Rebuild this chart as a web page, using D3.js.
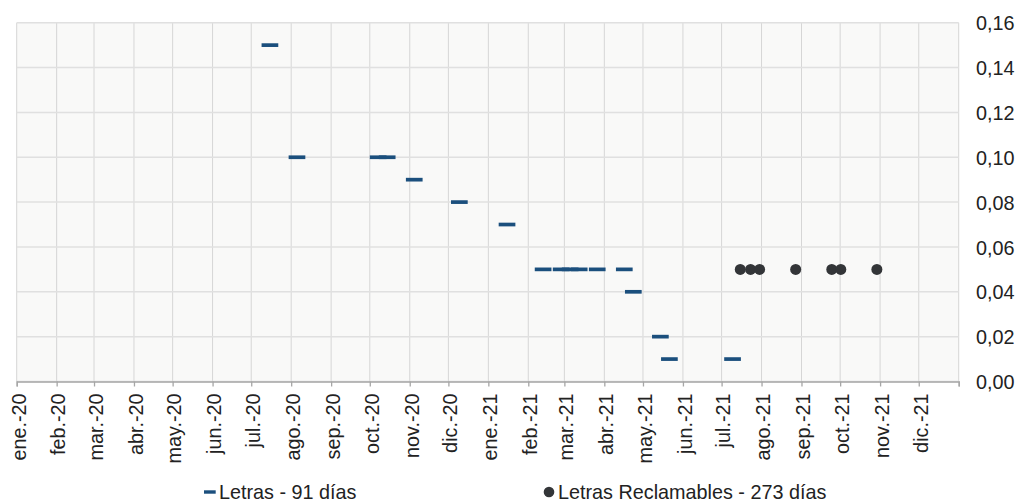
<!DOCTYPE html>
<html>
<head>
<meta charset="utf-8">
<script src="https://cdn.jsdelivr.net/npm/d3@7"></script>
<style>
  html, body { margin: 0; padding: 0; background: #ffffff; }
  svg { display: block; font-family: "Liberation Sans", Arial, sans-serif; }
</style>
</head>
<body>
<svg id="chart" width="1016" height="501"></svg>
<script>
// ---- data ----
const letrasDates = ["2020-07-15","2020-08-05","2020-10-07","2020-10-14","2020-11-04","2020-12-09",
  "2021-01-15","2021-02-12","2021-02-26","2021-03-05","2021-03-12","2021-03-26","2021-04-16",
  "2021-04-23","2021-05-14","2021-05-21","2021-07-09"];
const letrasValues = [0.15,0.10,0.10,0.10,0.09,0.08,0.07,0.05,0.05,0.05,0.05,0.05,0.05,0.04,0.02,0.01,0.01];
const reclamDates = ["2021-07-15","2021-07-23","2021-07-30","2021-08-27","2021-09-24","2021-10-01","2021-10-29"];
const reclamValues = [0.05,0.05,0.05,0.05,0.05,0.05,0.05];
const monthNames = ["ene.","feb.","mar.","abr.","may.","jun.","jul.","ago.","sep.","oct.","nov.","dic."];
const yTickValues = [0,0.02,0.04,0.06,0.08,0.10,0.12,0.14,0.16];
const legendLabels = ["Letras - 91 días","Letras Reclamables - 273 días"];

// ---- setup ----
(function () {
const svg = d3.select("#chart");
const pL = 16.7, pR = 958.7, pT = 22.7, pB = 381.5;
const FS = 19.8;
const parse = s => { const p = s.split("-").map(Number); return new Date(p[0], p[1]-1, p[2], 12); };

const x = d3.scaleTime().domain([new Date(2020,0,1), new Date(2022,0,1)]).range([pL, pR]);
const y = d3.scaleLinear().domain([0, 0.16]).range([pB, pT]);
const monthTicks = d3.timeMonth.range(new Date(2020,0,1), new Date(2022,0,2));
const locale = d3.formatLocale({decimal: ",", thousands: ".", grouping: [3], currency: ["", "€"]});
const yFmt = locale.format(".2f");

// plot background
svg.append("rect").attr("x", pL).attr("y", pT)
  .attr("width", pR - pL).attr("height", pB - pT).attr("fill", "#f9f9f8");

// vertical gridlines
svg.append("g").selectAll("line").data(monthTicks).join("line")
  .attr("x1", d => x(d)).attr("x2", d => x(d))
  .attr("y1", pT).attr("y2", pB)
  .attr("stroke", "#d6d6d6").attr("stroke-width", 1);

// horizontal gridlines
svg.append("g").selectAll("line").data(yTickValues).join("line")
  .attr("x1", pL).attr("x2", pR)
  .attr("y1", d => y(d)).attr("y2", d => y(d))
  .attr("stroke", "#e0e0e0").attr("stroke-width", 1.5);

// x axis
const xAxis = d3.axisBottom(x).tickValues(monthTicks).tickSize(5)
  .tickFormat(d => d.getFullYear() >= 2022 ? "" : monthNames[d.getMonth()] + "-" + String(d.getFullYear()).slice(2));
const gx = svg.append("g").attr("transform", `translate(0,${pB})`).call(xAxis);
gx.select(".domain").attr("stroke", "#a6a6a6").attr("stroke-width", 1.3);
gx.selectAll(".tick line").attr("stroke", "#a6a6a6").attr("stroke-width", 1.3);
gx.selectAll(".tick text")
  .attr("transform", "rotate(-90)")
  .attr("x", -12).attr("y", 0).attr("dy", "0.42em")
  .style("text-anchor", "end")
  .attr("fill", "#222").attr("font-size", FS)
  .attr("font-family", "Liberation Sans, Arial, sans-serif");

// y axis (right)
const yAxis = d3.axisRight(y).tickValues(yTickValues).tickSize(0).tickPadding(17.3).tickFormat(yFmt);
const gy = svg.append("g").attr("transform", `translate(${pR},0)`).call(yAxis);
gy.select(".domain").remove();
gy.selectAll(".tick text").attr("fill", "#222").attr("font-size", FS).attr("dy", "0.36em")
  .attr("font-family", "Liberation Sans, Arial, sans-serif");

// Letras - 91 días (dash markers)
const letras = letrasDates.map((d, i) => ({date: parse(d), v: letrasValues[i]}));
svg.append("g").selectAll("rect").data(letras).join("rect")
  .attr("x", d => x(d.date) - 8.35).attr("y", d => y(d.v) - 1.85)
  .attr("width", 16.7).attr("height", 3.7)
  .attr("fill", "#1b4f7d");

// Letras Reclamables - 273 días (dots)
const reclam = reclamDates.map((d, i) => ({date: parse(d), v: reclamValues[i]}));
svg.append("g").selectAll("circle").data(reclam).join("circle")
  .attr("cx", d => x(d.date)).attr("cy", d => y(d.v)).attr("r", 5.5)
  .attr("fill", "#333538");

// legend
const lg = svg.append("g").attr("font-size", FS).attr("fill", "#222");
lg.append("rect").attr("x", 204).attr("y", 490.3).attr("width", 11.7).attr("height", 3.4).attr("fill", "#1b4f7d");
lg.append("text").attr("x", 219).attr("y", 498.5).text(legendLabels[0]);
lg.append("circle").attr("cx", 549).attr("cy", 492).attr("r", 5.3).attr("fill", "#333538");
lg.append("text").attr("x", 558).attr("y", 498.5).text(legendLabels[1]);
})();
</script>
</body>
</html>
